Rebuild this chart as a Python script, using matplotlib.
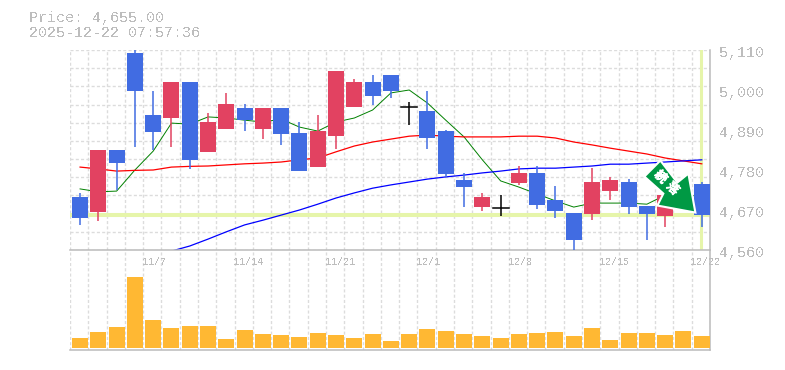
#!/usr/bin/env python3
"""Candlestick chart with moving averages and a volume panel."""

import matplotlib
matplotlib.use("Agg")
import matplotlib.pyplot as plt
import matplotlib.patheffects as pe
from matplotlib.patches import Polygon
from matplotlib.transforms import IdentityTransform

W, H = 785, 370
DPI = 100

opens = [4706, 4664, 4835, 5102, 4931, 4923, 5022, 4830, 4893, 4950, 4893, 4950,
         4882, 4788, 4873, 4953, 5022, 5041, 4953, 4942, 4887, 4752, 4678, 4676,
         4744, 4772, 4698, 4662, 4659, 4722, 4747, 4681, 4654, 4684, 4742]
closes = [4648, 4835, 4799, 4997, 4885, 5022, 4808, 4912, 4961, 4917, 4950, 4879,
          4777, 4887, 5052, 5022, 4984, 4997, 4953, 4868, 4769, 4733, 4706, 4676,
          4772, 4684, 4667, 4588, 4747, 4752, 4678, 4659, 4711, 4725, 4655]
highs = [4717, 4835, 4835, 5110, 4997, 5022, 5022, 4937, 4992, 4961, 4950, 4950,
         4912, 4931, 5052, 5030, 5041, 5041, 4967, 4997, 4890, 4772, 4717, 4711,
         4791, 4791, 4736, 4662, 4785, 4761, 4755, 4681, 4711, 4725, 4747]
lows = [4629, 4640, 4725, 4843, 4835, 4843, 4783, 4830, 4893, 4887, 4865, 4849,
        4777, 4788, 4838, 4953, 4959, 4978, 4904, 4838, 4761, 4678, 4667, 4654,
        4739, 4673, 4648, 4557, 4642, 4698, 4659, 4588, 4623, 4684, 4623]

ma_short = [4728, 4720, 4722, 4780, 4832, 4909, 4906, 4926, 4923, 4917, 4912, 4920,
            4898, 4887, 4912, 4923, 4945, 4992, 5000, 4964, 4917, 4871, 4808, 4750,
            4733, 4714, 4695, 4678, 4689, 4689, 4689, 4686, 4711, 4717, 4703]
ma_mid = [4788, 4783, 4777, 4779, 4780, 4788, 4790, 4791, 4794, 4797, 4799, 4802,
          4808, 4813, 4830, 4846, 4857, 4865, 4873, 4876, 4873, 4871, 4871, 4871,
          4873, 4873, 4868, 4857, 4849, 4840, 4832, 4824, 4813, 4805, 4797]
ma_long = [None, None, None, None, None, 4557, 4571, 4590, 4610, 4629, 4642, 4656,
           4670, 4686, 4703, 4717, 4730, 4739, 4747, 4755, 4761, 4766, 4772, 4777,
           4783, 4785, 4785, 4788, 4791, 4796, 4796, 4799, 4802, 4805, 4808]

# no scale on this panel in the picture, so relative units
volumes = [10, 16, 21, 71, 28, 20, 22, 22, 9, 18, 14, 13, 11, 15, 13, 10, 14, 7,
           14, 19, 17, 14, 12, 10, 14, 15, 16, 12, 20, 8, 15, 15, 13, 17, 12]

date_labels = ["11/7", "11/14", "11/21", "12/1", "12/8", "12/15", "12/22"]
date_positions = [4, 9, 14, 19, 24, 29, 34]
price_ticks = [5110, 5000, 4890, 4780, 4670, 4560]

last_price = 4655
title_lines = ["Price: 4,655.00", "2025-12-22 07:57:36"]
arrow_text = "続落"

GRID = "#dcdcdc"
AXIS = "#bbbbbb"
TEXT = "#bdbdbd"
UP = "#e24261"
DOWN = "#416ce2"
VOL = "#ffb833"
HILITE = "#e6f5aa"
ARROW = "#009944"
FONT = ["Liberation Mono", "Noto Sans CJK JP"]

plt.rcParams["text.antialiased"] = False


def px_axes(fig, left, top, right, bottom):
    return fig.add_axes([left / W, 1 - bottom / H, (right - left) / W, (bottom - top) / H])


def setup_grid(ax):
    ax.set_xlim(0, 35)
    ax.set_xticks(range(36))
    ax.tick_params(length=0, labelbottom=False, labelleft=False)
    ax.grid(True, color=GRID, linestyle=(0, (2.2, 1.6)), linewidth=1.0)
    ax.set_axisbelow(True)
    ax.patch.set_visible(False)
    for side in ("top", "left"):
        ax.spines[side].set_visible(False)
    for side in ("right", "bottom"):
        ax.spines[side].set_color(AXIS)
        ax.spines[side].set_linewidth(1.1)


def plot_prices(ax):
    setup_grid(ax)
    ax.set_ylim(4560, 5110)
    ax.set_yticks(range(4560, 5111, 50))

    # candles sit a touch right of the middle of their grid cell
    xs = [i + 0.55 for i in range(len(opens))]
    ax.axhline(last_price, color=HILITE, linewidth=2.9, zorder=1.5)
    ax.axvline(xs[-1] - 0.05, color=HILITE, linewidth=2.2, zorder=1.5)

    ax.plot(xs, ma_short, color="#008000", linewidth=0.7, zorder=2)
    ax.plot(xs, ma_mid, color="#ff0000", linewidth=0.9, zorder=2)
    long_xs = [x for x, v in zip(xs, ma_long) if v is not None]
    long_vs = [v for v in ma_long if v is not None]
    ax.plot(long_xs, long_vs, color="#0000ff", linewidth=0.9, zorder=2)

    for x, o, c, hi, lo in zip(xs, opens, closes, highs, lows):
        if o == c:
            color = "black"
        else:
            color = UP if c > o else DOWN
        ax.plot([x, x], [lo, hi], color=color, linewidth=1.1, zorder=3,
                solid_capstyle="butt")
        if o == c:
            ax.plot([x - 0.44, x + 0.44], [o, o], color=color, linewidth=1.1, zorder=3)
        else:
            ax.bar(x, abs(c - o), bottom=min(o, c), width=0.875, color=color,
                   linewidth=0, zorder=3)

    for price in price_ticks:
        ax.annotate(f"{price:,}", (35, price), xytext=(6.5, -2.2), textcoords="offset points",
                    ha="left", va="center", color=TEXT, fontsize=10.8, family=FONT,
                    annotation_clip=False)


def plot_volume(ax):
    setup_grid(ax)
    ax.set_ylim(-2, 98)
    ax.set_yticks([])
    ax.grid(False, axis="y")
    xs = [i + 0.55 for i in range(len(volumes))]
    ax.bar(xs, volumes, width=0.875, color=VOL, linewidth=0, zorder=3)
    for pos, label in zip(date_positions, date_labels):
        ax.annotate(label, (pos, 98), xytext=(-0.7, -5.2), textcoords="offset points",
                    ha="left", va="top", color=TEXT, fontsize=7.2, family=FONT,
                    annotation_clip=False)


def draw_arrow(fig, ax):
    # signal marker anchored on the last candle, offsets in pixels from its tip
    tip_x, tip_y = ax.transData.transform((34.2, last_price + 8))
    shape = [(0, 0), (-38, 7), (-32, 19), (-51, 36), (-35, 52), (-18, 30), (-7, 39)]
    pts = [(tip_x + dx, tip_y + dy) for dx, dy in shape]
    fig.add_artist(Polygon(pts, closed=True, facecolor=ARROW, edgecolor="white",
                           linewidth=1.5, joinstyle="miter",
                           transform=IdentityTransform(), zorder=6))
    for ch, (dx, dy) in zip(arrow_text, [(-34.5, 35.5), (-22.5, 24)]):
        fig.text((tip_x + dx) / W, (tip_y + dy) / H, ch, rotation=-45, color="white",
                 fontsize=8.8, ha="center", va="center",
                 rotation_mode="anchor", family=["Noto Sans CJK JP"], zorder=7,
                 antialiased=True,
                 path_effects=[pe.withStroke(linewidth=0.7, foreground="white")])


def main():
    fig = plt.figure(figsize=(W / DPI, H / DPI), dpi=DPI, facecolor="white")
    ax_price = px_axes(fig, 70, 50, 710, 250)
    ax_vol = px_axes(fig, 70, 250, 710, 350)
    plot_prices(ax_price)
    plot_volume(ax_vol)
    draw_arrow(fig, ax_price)
    for line, y in zip(title_lines, (18, 33)):
        fig.text(29 / W, 1 - y / H, line, color=TEXT, fontsize=10.8, family=FONT,
                 ha="left", va="center")
    fig.savefig("out.png", dpi=DPI)


if __name__ == "__main__":
    main()
